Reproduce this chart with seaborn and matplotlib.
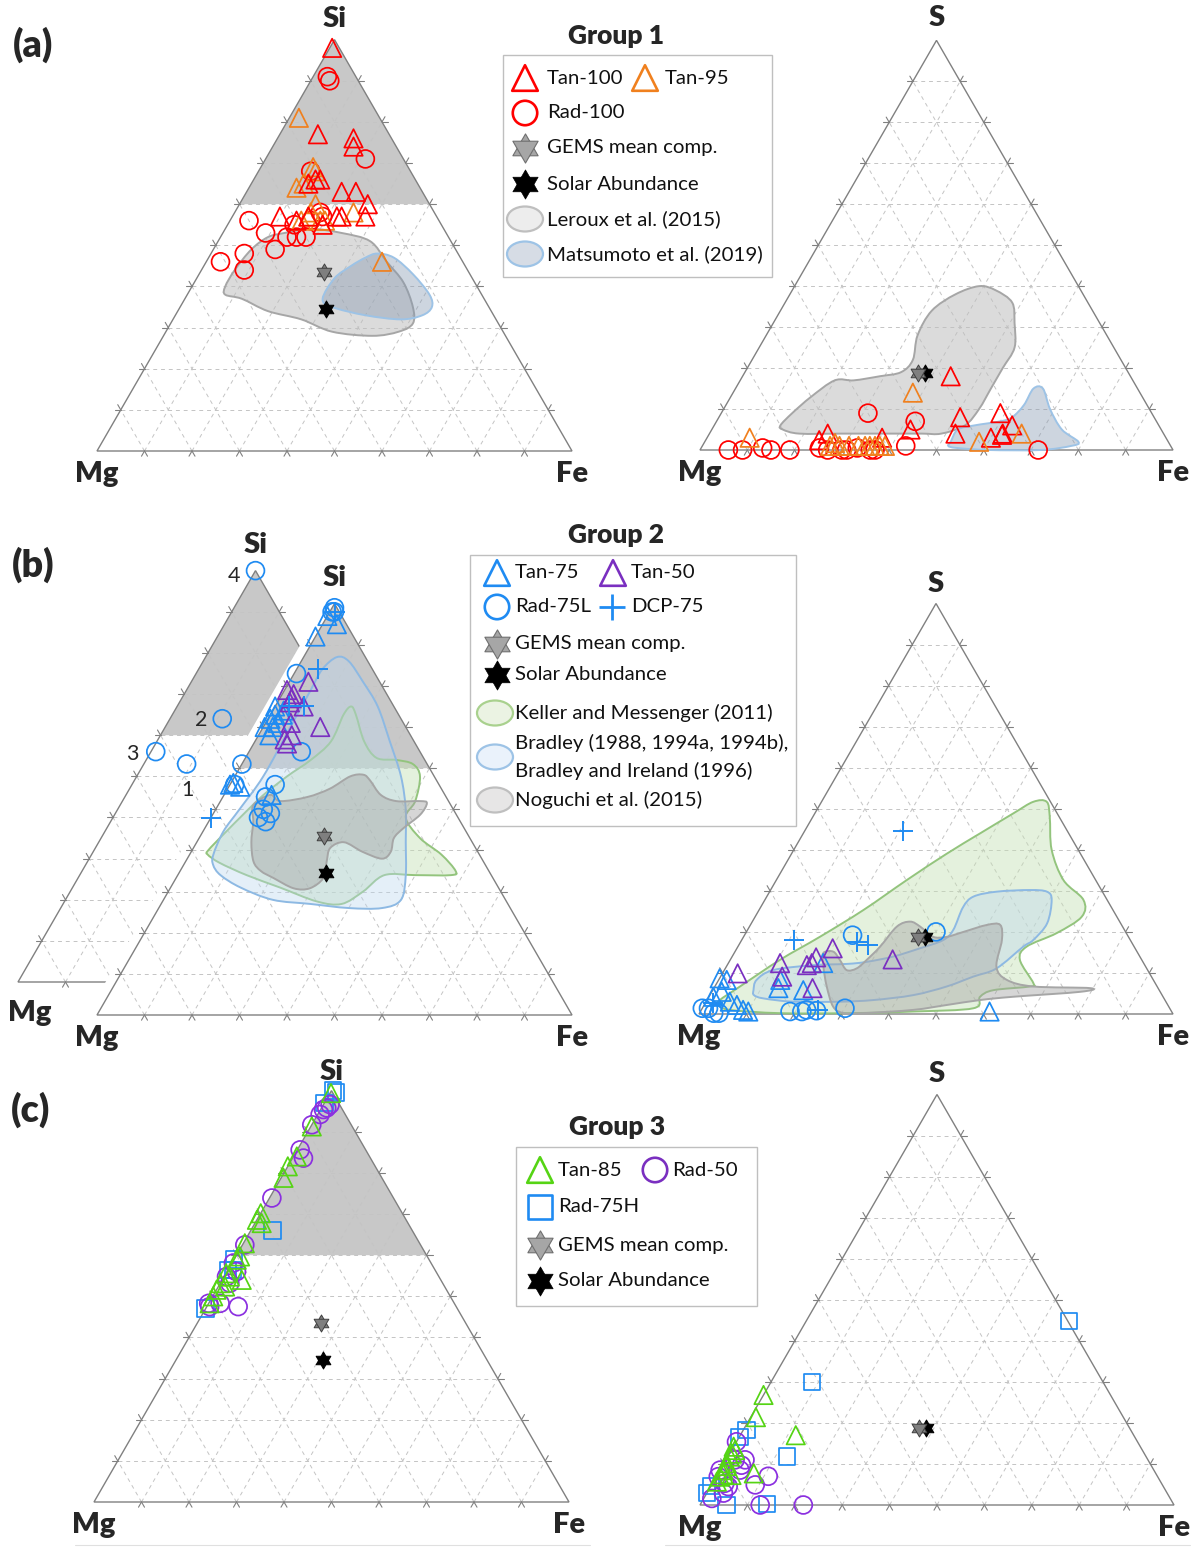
import numpy as np
import matplotlib
matplotlib.use("Agg")
import matplotlib.pyplot as plt
import seaborn as sns
from matplotlib.path import Path
from matplotlib.patches import PathPatch, Polygon, Ellipse, Rectangle

sns.set_theme(style="white")
plt.rcParams["font.family"] = ["Lato", "DejaVu Sans"]

# compositions in at.%, each row = [top vertex (Si or S), Fe]; Mg is the rest
# ---- Group 1 ----
tan100_si = [[98, 0.5], [77, 8], [76, 16], [74, 17], [66, 13], [65, 12], [66, 14], [63, 20],
             [63, 23], [60, 27], [57, 10], [57, 23], [57, 22], [57, 28], [55, 20], [56, 14], [57, 16]]
tan95_si = [[81, 2], [64, 10], [69, 11], [68, 12], [65, 11], [60, 16], [58, 25], [56, 15],
            [57, 16], [56, 19], [46, 37], [58, 16], [56, 20]]
rad100_si = [[91, 3], [90, 4], [71, 21], [68, 11], [56, 4], [53, 9], [58, 18], [55, 14], [52, 14],
             [52, 16], [52, 18], [48, 7], [49, 13], [46, 3], [44, 9], [56, 17], [57, 19]]
tan100_s = [[18, 44], [8, 51], [4, 52], [9, 59], [6, 63], [4, 62], [3, 60], [3.7, 62], [5, 42],
            [4, 25], [3, 37], [2.4, 24]]
tan95_s = [[3, 9], [14, 38], [4, 66], [2, 58], [1.7, 27.7], [1, 27], [1, 29], [1, 31], [1, 33],
           [1, 34.4], [1, 35.4], [1, 36.5], [1, 37.5], [1, 38.6]]
rad100_s = [[0, 6], [0, 9], [0.5, 13], [0, 15], [0, 19], [0.5, 25], [0, 27], [0, 30], [0, 31],
            [0.5, 33], [0, 36], [0, 37], [1, 43], [7, 42], [9, 31], [0, 71.5]]
leroux_si = [[40, 7], [44, 7], [49, 8], [52, 10], [53, 13], [54, 18], [53, 25], [51, 32], [46, 38],
             [41, 44], [35, 49], [31, 51], [29, 49], [28, 44], [29, 35], [32, 27], [34, 19], [37, 12], [38, 8]]
matsu_si = [[37, 29], [42, 29], [45, 31], [47, 33], [48, 35], [47, 39], [43, 45], [38, 51],
            [35, 53], [33, 52], [32, 48], [33, 40], [35, 32]]
leroux_s = [[6, 14], [9, 15], [13, 17], [17, 20], [17, 24], [18, 29], [19, 33], [22, 34], [28, 32],
            [34, 32], [38, 35], [40, 39], [39, 43], [36, 48], [31, 51], [25, 54], [20, 54], [15, 54],
            [10, 54], [6, 53], [4, 49], [4, 45], [4, 38], [4, 28], [4, 19], [5, 15]]
matsu_s = [[2, 52], [5, 52], [6, 55], [7, 60], [8, 62], [11, 63], [15, 63], [15, 65], [10, 69],
           [5, 74], [2, 79], [1, 78], [0, 72], [0, 61], [0.5, 54], [1, 52]]

# ---- Group 2 ----
tan75_si = [[95, 3], [97, 0], [92, 0], [75, 0], [73, 1], [72, 0.5], [73, 2.6], [70, 0.3], [70, 2],
            [68, 2.3], [71, 2.5], [74, 2.3], [56, 0], [55.5, 2.4], [56.4, 0.5], [53.5, 10]]
tan50_si = [[81, 4], [79, 0.5], [78, 2.4], [77, 2.5], [75, 6], [71, 5.3], [70, 12], [68, 7],
            [67, 6], [66, 7], [76, 2.6]]
rad75l_si = [[99, 0.5], [98, 0.5], [98, 1], [83, 0.5], [64, 11], [61, 0], [56, 1], [56, 9.5],
             [53, 9], [49, 12], [48, 10], [47, 12], [50, 10]]
dcp75_si = [[84, 4.6], [75, 6], [75, 3], [48, 0], [98, 1]]
rad75l_inset = [[100, 0], [64, 11], [56, 1], [53, 9]]
inset_ids = ["4", "2", "3", "1"]
tan75_s = [[8.7, 0], [8.3, 1.7], [4.2, 0.9], [5.4, 2.1], [3, 5], [2.2, 6.9], [1, 8.8], [0.6, 10.1],
           [6.3, 13.6], [5.8, 19.1], [12.4, 20], [0.6, 61], [8.3, 13]]
tan50_s = [[9.9, 3.2], [12.4, 10.9], [9.1, 13], [11.9, 16.8], [12.4, 17.6], [13.8, 17.8],
           [16, 20.2], [6.3, 20.8], [13.3, 34.2]]
rad75l_s = [[19.2, 22.8], [20, 40], [1.4, 30.1], [0.6, 18.9], [0.6, 21.4], [1, 22.2], [0.8, 24.4],
            [1.4, 0], [0.2, 3], [0.2, 4.1], [1.4, 1.3]]
dcp75_s = [[44.7, 20.6], [18, 11], [17.6, 24.5], [16.8, 27.3], [1, 24.7], [2.6, 1.7]]
keller_si = [[40, 3.4], [44, 4.7], [49, 6.5], [53.5, 8.3], [58, 11], [62, 14], [66.5, 16], [73, 15.4],
             [75, 16], [73, 18], [66.5, 23], [62.5, 27.6], [62, 32], [61, 36], [58, 39], [52, 41],
             [48, 41], [43, 46.5], [39, 53], [35, 58], [34, 57.5], [34, 50], [34, 43.5], [30, 41],
             [27, 38], [27.6, 32.5], [31, 23], [34, 14.5], [37, 7.3], [39, 3.8]]
bradley_si = [[39, 5], [44.6, 4.3], [50, 5], [58, 6], [70, 5.7], [79, 5.5], [84, 5.4], [87, 7],
              [86, 10], [81, 15.5], [75, 21.6], [66.5, 28.4], [58, 35], [50, 40], [42, 44], [34, 48],
              [28, 50], [26, 47], [26, 40], [27, 31.4], [28, 23], [31, 14.7], [34, 9], [36.5, 6.2]]
noguchi_si = [[51, 7.4], [53.5, 9.7], [52, 12.6], [53, 17.8], [55, 21.5], [58, 24.3], [58.4, 26.9],
              [57, 29], [53.5, 33], [52, 37], [52, 42], [51.5, 43.7], [48.7, 43.7], [45.4, 41.8],
              [43, 41], [39.7, 42], [38, 41], [39.7, 36], [42, 31], [40.6, 28.8], [37.3, 29.7],
              [33.3, 31], [30.8, 29.4], [30.8, 26], [33.3, 20.5], [35, 17], [37.3, 14.3], [42, 11.5],
              [47, 9.4]]
keller_s = [[3.4, 2.7], [6.7, 5.3], [13.2, 10.5], [18.8, 16.1], [25.3, 22], [32.6, 27.5], [39, 32.7],
            [44, 37.3], [48.9, 41.9], [51.7, 44.7], [51.7, 47.5], [48, 50], [40, 54.4], [32.6, 60.6],
            [27.8, 67.2], [23.7, 68.9], [19.7, 65.6], [16.4, 60.9], [13.2, 61.1], [7.5, 66.8],
            [6.7, 66.5], [5.8, 59.2], [4.2, 57.2], [1.4, 57.2], [0.6, 44.9], [0.2, 31.1], [0.2, 17],
            [1, 6], [2.2, 3]]
bradley_s = [[5.8, 8.6], [8.3, 8], [10.7, 10.3], [11.9, 18.2], [12.2, 25.1], [12.7, 29], [14, 34],
             [16, 38.6], [18, 42.5], [20.5, 43.4], [26, 42.7], [28.6, 43.6], [29.8, 47.9], [30.2, 54.7],
             [29.8, 58.5], [27.8, 60.5], [22.1, 62.4], [18, 61.5], [16.4, 60.2], [11.1, 57.2],
             [9.1, 53.3], [6.7, 48.9], [4.6, 42.9], [3.4, 35.1], [3, 28.2], [3, 18.4], [3.8, 11.7],
             [4.6, 9.3]]
noguchi_s = [[14.8, 18.8], [15.2, 20.7], [13.2, 23.1], [10.7, 25.8], [11.1, 27.7], [13.2, 28.8],
             [16.4, 30], [21.3, 31.1], [22.5, 33.3], [21.3, 36], [18.8, 40], [18.8, 42.9], [20, 45.8],
             [21.7, 49.9], [21.7, 52.7], [18, 54.9], [11.5, 57], [8.3, 60.8], [6.7, 67.2], [6.3, 79.4],
             [5.4, 77.7], [4.2, 64.2], [3.4, 57.6], [2.2, 51.2], [1, 44.7], [0.2, 34.6], [0.2, 30.4],
             [1.8, 27.4], [6.7, 23.6], [11.5, 20.5]]

# ---- Group 3 ----
tan85_si = [[99.4, 0.2], [91.3, 0.2], [84, 0.7], [81.6, 0], [78.8, 0.5], [70.2, 0], [68.6, 0],
            [67.8, 1.4], [62.9, 0.3], [59.7, 0.9], [58.9, 0.6], [54, 4.1], [55.6, 0], [53.2, 0],
            [51.6, 0], [50, 0.1], [48.3, 0.2], [54.8, 1.2], [52.4, 1.4]]
rad50_si = [[95.4, 0.6], [96.6, 1.4], [94.2, 0.5], [95.8, 1.1], [91.7, 0], [85.6, 0.6], [83.6, 2.3],
            [73.9, 0.5], [62.5, 0.5], [58.1, 0.3], [56, 2], [54.8, 0.5], [53.2, 2], [48.3, 2.4],
            [48.3, 0], [47.5, 0.6], [47.5, 6.6]]
rad75h_si = [[100, 0.3], [99.5, 1.2], [97, 0], [66, 4.6], [59, 0], [56.4, 0], [47, 0], [56.4, 1.1]]
tan85_s = [[26.8, 0], [21.4, 1.1], [17, 11.7], [7.7, 7.5], [7.3, 3], [14.2, 0], [11.8, 0.4],
           [10.2, 0.5], [8.5, 0.7], [6.9, 0.8], [5.7, 0.7], [13.4, 0.7], [12.5, 0.5], [9.5, 0.8],
           [7.5, 1.2]]
rad50_s = [[15.4, 0], [11, 4], [9.7, 3.9], [7, 10.9], [4.9, 9.2], [4.5, 3.7], [2.9, 3.5], [1.6, 1.7],
           [0, 12.7], [0, 21.8], [8.5, 0], [6.9, 0.4], [5.3, 2.6], [11, 1.9], [8.5, 4.2]]
rad75h_s = [[44.8, 55.4], [30, 8.6], [11.8, 12.4], [18.3, 0.7], [16.6, 0], [2.9, 0], [4.6, 0],
            [0, 5.6], [0.2, 14]]

# reference compositions
gems_si, solar_si = [43.5, 26], [34.5, 31]
gems_s, solar_s = [18.8, 36.7], [18.8, 38.2]
si_rich = [[60, 0], [100, 0], [60, 40]]  # shaded field Si > 60 %

GRID = range(10, 100, 10)
EDGE_C, GRID_C = "#808080", "#C4C4C4"
RED, ORANGE = "#FF0000", "#F0801E"
BLUE, PURPLE = "#1F8BF2", "#7A2FC0"
GREEN, VIOLET = "#55D414", "#8B2FE0"

# triangle placement on the page: left x, base y, width (pixels)
A_SI, A_S = (97, 451, 475), (700, 450, 473)
B_IN, B_SI, B_S = (18, 982, 475), (97, 1015, 475), (699, 1014, 474)
C_SI, C_S = (94, 1502, 475), (700, 1505, 474)

H = np.sqrt(3) / 2
TRI_UP = Path([(0, 1), (-0.866, -0.5), (0.866, -0.5), (0, 1)], closed=True)
TRI_DN = Path([(0, -1), (-0.866, 0.5), (0.866, 0.5), (0, -1)], closed=True)


def tern_xy(tri, comp):
    ox, by, w = tri
    c = np.atleast_2d(np.asarray(comp, dtype=float)) / 100
    return ox + (c[:, 1] + c[:, 0] / 2) * w, by - c[:, 0] * w * H


def smooth_path(P):
    # closed Catmull-Rom outline, handed to matplotlib as cubic Bezier segments
    n = len(P)
    verts, codes = [P[0]], [Path.MOVETO]
    for i in range(n):
        p0, p1, p2, p3 = P[i - 1], P[i], P[(i + 1) % n], P[(i + 2) % n]
        verts += [p1 + (p2 - p0) / 6, p2 - (p3 - p1) / 6, p2]
        codes += [Path.CURVE4] * 3
    verts.append(P[0])
    codes.append(Path.CLOSEPOLY)
    return Path(verts, codes)


def draw_triangle(ax, tri, names, z, shade=False, top_dy=-21, left_off=(0, 23)):
    xs, ys = tern_xy(tri, [[0, 0], [0, 100], [100, 0]])
    if shade:
        sx, sy = tern_xy(tri, si_rich)
        ax.add_patch(Polygon(np.column_stack([sx, sy]), closed=True, fc="#C8C8C8", ec="none", zorder=z))
    for k in GRID:
        for a, b in (([k, 0], [k, 100 - k]), ([0, k], [100 - k, k]), ([0, 100 - k], [100 - k, 0])):
            x, y = tern_xy(tri, [a, b])
            ax.plot(x, y, color=GRID_C, lw=0.7, ls=(0, (4, 4)), zorder=z + 0.1)
            p0, p1 = np.array([x[0], y[0]]), np.array([x[1], y[1]])
            u = (p1 - p0) / np.hypot(*(p1 - p0))
            for q, d in ((p0, -u), (p1, u)):
                ax.plot([q[0], q[0] + 6 * d[0]], [q[1], q[1] + 6 * d[1]], color=EDGE_C, lw=0.8, zorder=z + 0.2)
    ax.add_patch(Polygon(np.column_stack([xs, ys]), closed=True, fill=False, ec=EDGE_C, lw=1.0, zorder=z + 0.2))
    top, left, right = names
    lab = dict(fontsize=21, fontweight="heavy", ha="center", va="center", zorder=z + 0.3)
    ax.text(xs[2], ys[2] + top_dy, top, **lab)
    ax.text(xs[0] + left_off[0], ys[0] + left_off[1], left, **lab)
    if right:
        ax.text(xs[1], ys[1] + 23, right, **lab)


def region(ax, tri, comp, fc, ec, alpha, z):
    x, y = tern_xy(tri, comp)
    path = smooth_path(np.column_stack([x, y]))
    ax.add_patch(PathPatch(path, fc=fc, alpha=alpha, ec="none", zorder=z))
    ax.add_patch(PathPatch(path, fc="none", ec=ec, lw=1.4, zorder=z + 0.01))


def pts(ax, tri, comp, marker, color, s=None, z=5):
    x, y = tern_xy(tri, comp)
    if marker == "+":
        sns.scatterplot(x=x, y=y, ax=ax, marker="+", color=color, s=190, linewidth=1.4,
                        zorder=z, legend=False)
    else:
        size = s or {"^": 175, "o": 165, "s": 140}[marker]
        sns.scatterplot(x=x, y=y, ax=ax, marker=marker, s=size, facecolors="none", edgecolor=color,
                        linewidth=1.25, zorder=z, legend=False)


def star(ax, x, y, fc, ec, s, z):
    for m in (TRI_UP, TRI_DN):
        sns.scatterplot(x=np.atleast_1d(x), y=np.atleast_1d(y), ax=ax, marker=m, s=s, color=fc,
                        edgecolor=ec, linewidth=0.7, zorder=z, legend=False)


def refs(ax, tri, gems, solar, z=6):
    gx, gy = tern_xy(tri, gems)
    sx, sy = tern_xy(tri, solar)
    star(ax, sx, sy, "black", "black", 150, z)
    star(ax, gx, gy, "#7F7F7F", "#404040", 150, z + 0.1)


def legend_box(ax, box, title, title_xy):
    x0, y0, x1, y1 = box
    ax.add_patch(Rectangle((x0, y0), x1 - x0, y1 - y0, fc="white", ec="#BFBFBF", lw=1.0, zorder=8))
    ax.text(*title_xy, title, fontsize=19, fontweight="heavy", ha="center", va="center", zorder=9)


def leg_text(ax, x, y, s):
    ax.text(x, y, s, fontsize=14.7, ha="left", va="center", color="#111111", zorder=9)


def leg_mark(ax, x, y, marker, color):
    if marker == "+":
        ax.scatter([x], [y], marker="+", color=color, s=340, linewidths=2.0, zorder=9)
    else:
        size = {"^": 340, "o": 310, "s": 280}[marker]
        ax.scatter([x], [y], marker=marker, s=size, facecolors="none", edgecolors=color,
                   linewidths=1.9, zorder=9)


def leg_patch(ax, x, y, fc, ec):
    ax.add_patch(Ellipse((x, y), 36, 25, fc=fc, ec=ec, lw=1.6, zorder=9))


def leg_stars(ax, x, y_gems, y_solar):
    for m in (TRI_UP, TRI_DN):
        ax.scatter([x], [y_gems], marker=m, s=440, c="#A6A6A6", edgecolors="#707070", linewidths=0.8, zorder=9)
        ax.scatter([x], [y_solar], marker=m, s=440, c="black", edgecolors="black", linewidths=0.5, zorder=9)


fig = plt.figure(figsize=(12, 15.52), dpi=100)
ax = fig.add_axes([0, 0, 1, 1])

# ---------------- (a) Group 1 ----------------
draw_triangle(ax, A_SI, ("Si", "Mg", "Fe"), 1, shade=True)
region(ax, A_SI, leroux_si, "#BFBFBF", "#A6A6A6", 0.55, 1.5)
region(ax, A_SI, matsu_si, "#8497B0", "#9DC3E6", 0.4, 1.6)
pts(ax, A_SI, rad100_si, "o", RED)
pts(ax, A_SI, tan95_si, "^", ORANGE)
pts(ax, A_SI, tan100_si, "^", RED)
refs(ax, A_SI, gems_si, solar_si)

draw_triangle(ax, A_S, ("S", "Mg", "Fe"), 1, top_dy=-22)
region(ax, A_S, leroux_s, "#BFBFBF", "#A6A6A6", 0.55, 1.5)
region(ax, A_S, matsu_s, "#8497B0", "#9DC3E6", 0.4, 1.6)
pts(ax, A_S, rad100_s, "o", RED)
pts(ax, A_S, tan100_s, "^", RED)
pts(ax, A_S, tan95_s, "^", ORANGE)
refs(ax, A_S, gems_s, solar_s)

legend_box(ax, (503, 55, 772, 277), "Group 1", (616, 36))
leg_mark(ax, 525, 78, "^", RED); leg_text(ax, 547, 78, "Tan-100")
leg_mark(ax, 645, 78, "^", ORANGE); leg_text(ax, 665, 78, "Tan-95")
leg_mark(ax, 525, 113, "o", RED); leg_text(ax, 547, 113, "Rad-100")
leg_stars(ax, 525, 148, 184)
leg_text(ax, 547, 148, "GEMS mean comp.")
leg_text(ax, 547, 184, "Solar Abundance")
leg_patch(ax, 525, 219, "#EDEDED", "#BFBFBF"); leg_text(ax, 547, 219, "Leroux et al. (2015)")
leg_patch(ax, 525, 254, "#D6DCE5", "#9DC3E6"); leg_text(ax, 547, 254, "Matsumoto et al. (2019)")

# ---------------- (b) Group 2 ----------------
draw_triangle(ax, B_IN, ("Si", "Mg", None), 1, shade=True, top_dy=-26, left_off=(12, 31))
ix, iy = tern_xy(B_IN, rad75l_inset)
xs, ys = tern_xy(B_SI, [[0, 0], [0, 100], [100, 0]])
ax.add_patch(Polygon(np.column_stack([xs, ys]), closed=True, fc="white", ec="white", lw=13,
                     joinstyle="round", zorder=2))
pts(ax, B_IN, rad75l_inset, "o", BLUE, z=2.5)
for x, y, t, (dx, dy) in zip(ix, iy, inset_ids, [(-22, 5), (-21, 1), (-23, 2), (1, 26)]):
    ax.text(x + dx, y + dy, t, fontsize=15.5, ha="center", va="center", zorder=2.6)

draw_triangle(ax, B_SI, ("Si", "Mg", "Fe"), 3, shade=True, top_dy=-26)
region(ax, B_SI, keller_si, "#C5E0B4", "#93C47D", 0.45, 3.5)
region(ax, B_SI, bradley_si, "#BDD7EE", "#8DB9E3", 0.4, 3.6)
region(ax, B_SI, noguchi_si, "#A6A6A6", "#A6A6A6", 0.45, 3.7)
pts(ax, B_SI, rad75l_si, "o", BLUE)
pts(ax, B_SI, tan75_si, "^", BLUE)
pts(ax, B_SI, tan50_si, "^", PURPLE)
pts(ax, B_SI, dcp75_si, "+", BLUE)
refs(ax, B_SI, gems_si, solar_si)

draw_triangle(ax, B_S, ("S", "Mg", "Fe"), 1, top_dy=-20)
region(ax, B_S, keller_s, "#C5E0B4", "#93C47D", 0.45, 1.5)
region(ax, B_S, bradley_s, "#BDD7EE", "#8DB9E3", 0.4, 1.6)
region(ax, B_S, noguchi_s, "#A6A6A6", "#A6A6A6", 0.45, 1.7)
pts(ax, B_S, rad75l_s, "o", BLUE)
pts(ax, B_S, tan75_s, "^", BLUE)
pts(ax, B_S, tan50_s, "^", PURPLE)
pts(ax, B_S, dcp75_s, "+", BLUE)
refs(ax, B_S, gems_s, solar_s)

legend_box(ax, (470, 555, 796, 826), "Group 2", (616, 535))
leg_mark(ax, 497, 573, "^", BLUE); leg_text(ax, 515, 573, "Tan-75")
leg_mark(ax, 613, 573, "^", PURPLE); leg_text(ax, 631, 573, "Tan-50")
leg_mark(ax, 497, 607, "o", BLUE); leg_text(ax, 515, 607, "Rad-75L")
leg_mark(ax, 612, 607, "+", BLUE); leg_text(ax, 631, 607, "DCP-75")
leg_stars(ax, 497, 644, 675)
leg_text(ax, 515, 644, "GEMS mean comp.")
leg_text(ax, 515, 675, "Solar Abundance")
leg_patch(ax, 495, 713, "#EBF3E3", "#A9D18E"); leg_text(ax, 515, 713, "Keller and Messenger (2011)")
leg_patch(ax, 495, 757, "#EAF2FB", "#9DC3E6")
leg_text(ax, 515, 743, "Bradley (1988, 1994a, 1994b),")
leg_text(ax, 515, 771, "Bradley and Ireland (1996)")
leg_patch(ax, 495, 800, "#E7E6E6", "#BFBFBF"); leg_text(ax, 515, 800, "Noguchi et al. (2015)")

# ---------------- (c) Group 3 ----------------
draw_triangle(ax, C_SI, ("Si", "Mg", "Fe"), 1, shade=True, top_dy=-19)
pts(ax, C_SI, rad75h_si, "s", BLUE)
pts(ax, C_SI, rad50_si, "o", VIOLET)
pts(ax, C_SI, tan85_si, "^", GREEN)
refs(ax, C_SI, gems_si, solar_si)

draw_triangle(ax, C_S, ("S", "Mg", "Fe"), 1, top_dy=-21)
pts(ax, C_S, rad75h_s, "s", BLUE)
pts(ax, C_S, rad50_s, "o", VIOLET)
pts(ax, C_S, tan85_s, "^", GREEN)
refs(ax, C_S, gems_s, solar_s)

legend_box(ax, (516, 1147, 757, 1306), "Group 3", (617, 1127))
leg_mark(ax, 540, 1170, "^", GREEN); leg_text(ax, 558, 1170, "Tan-85")
leg_mark(ax, 655, 1170, "o", PURPLE); leg_text(ax, 672, 1170, "Rad-50")
leg_mark(ax, 540, 1207, "s", BLUE); leg_text(ax, 558, 1207, "Rad-75H")
leg_stars(ax, 540, 1245, 1281)
leg_text(ax, 558, 1245, "GEMS mean comp.")
leg_text(ax, 558, 1281, "Solar Abundance")

# panel letters
for t, (x, y) in zip(["(a)", "(b)", "(c)"], [(33, 45), (33, 565), (31, 1110)]):
    ax.text(x, y, t, fontsize=27, fontweight="heavy", ha="center", va="center")

# faint frame line under the bottom panels
for x0, x1 in ((75, 590), (665, 1190)):
    ax.plot([x0, x1], [1545, 1545], color="#E0E0E0", lw=0.8)

ax.set_xlim(0, 1200)
ax.set_ylim(1552, 0)
ax.set_axis_off()
fig.savefig("out.png", dpi=100, facecolor="white")
